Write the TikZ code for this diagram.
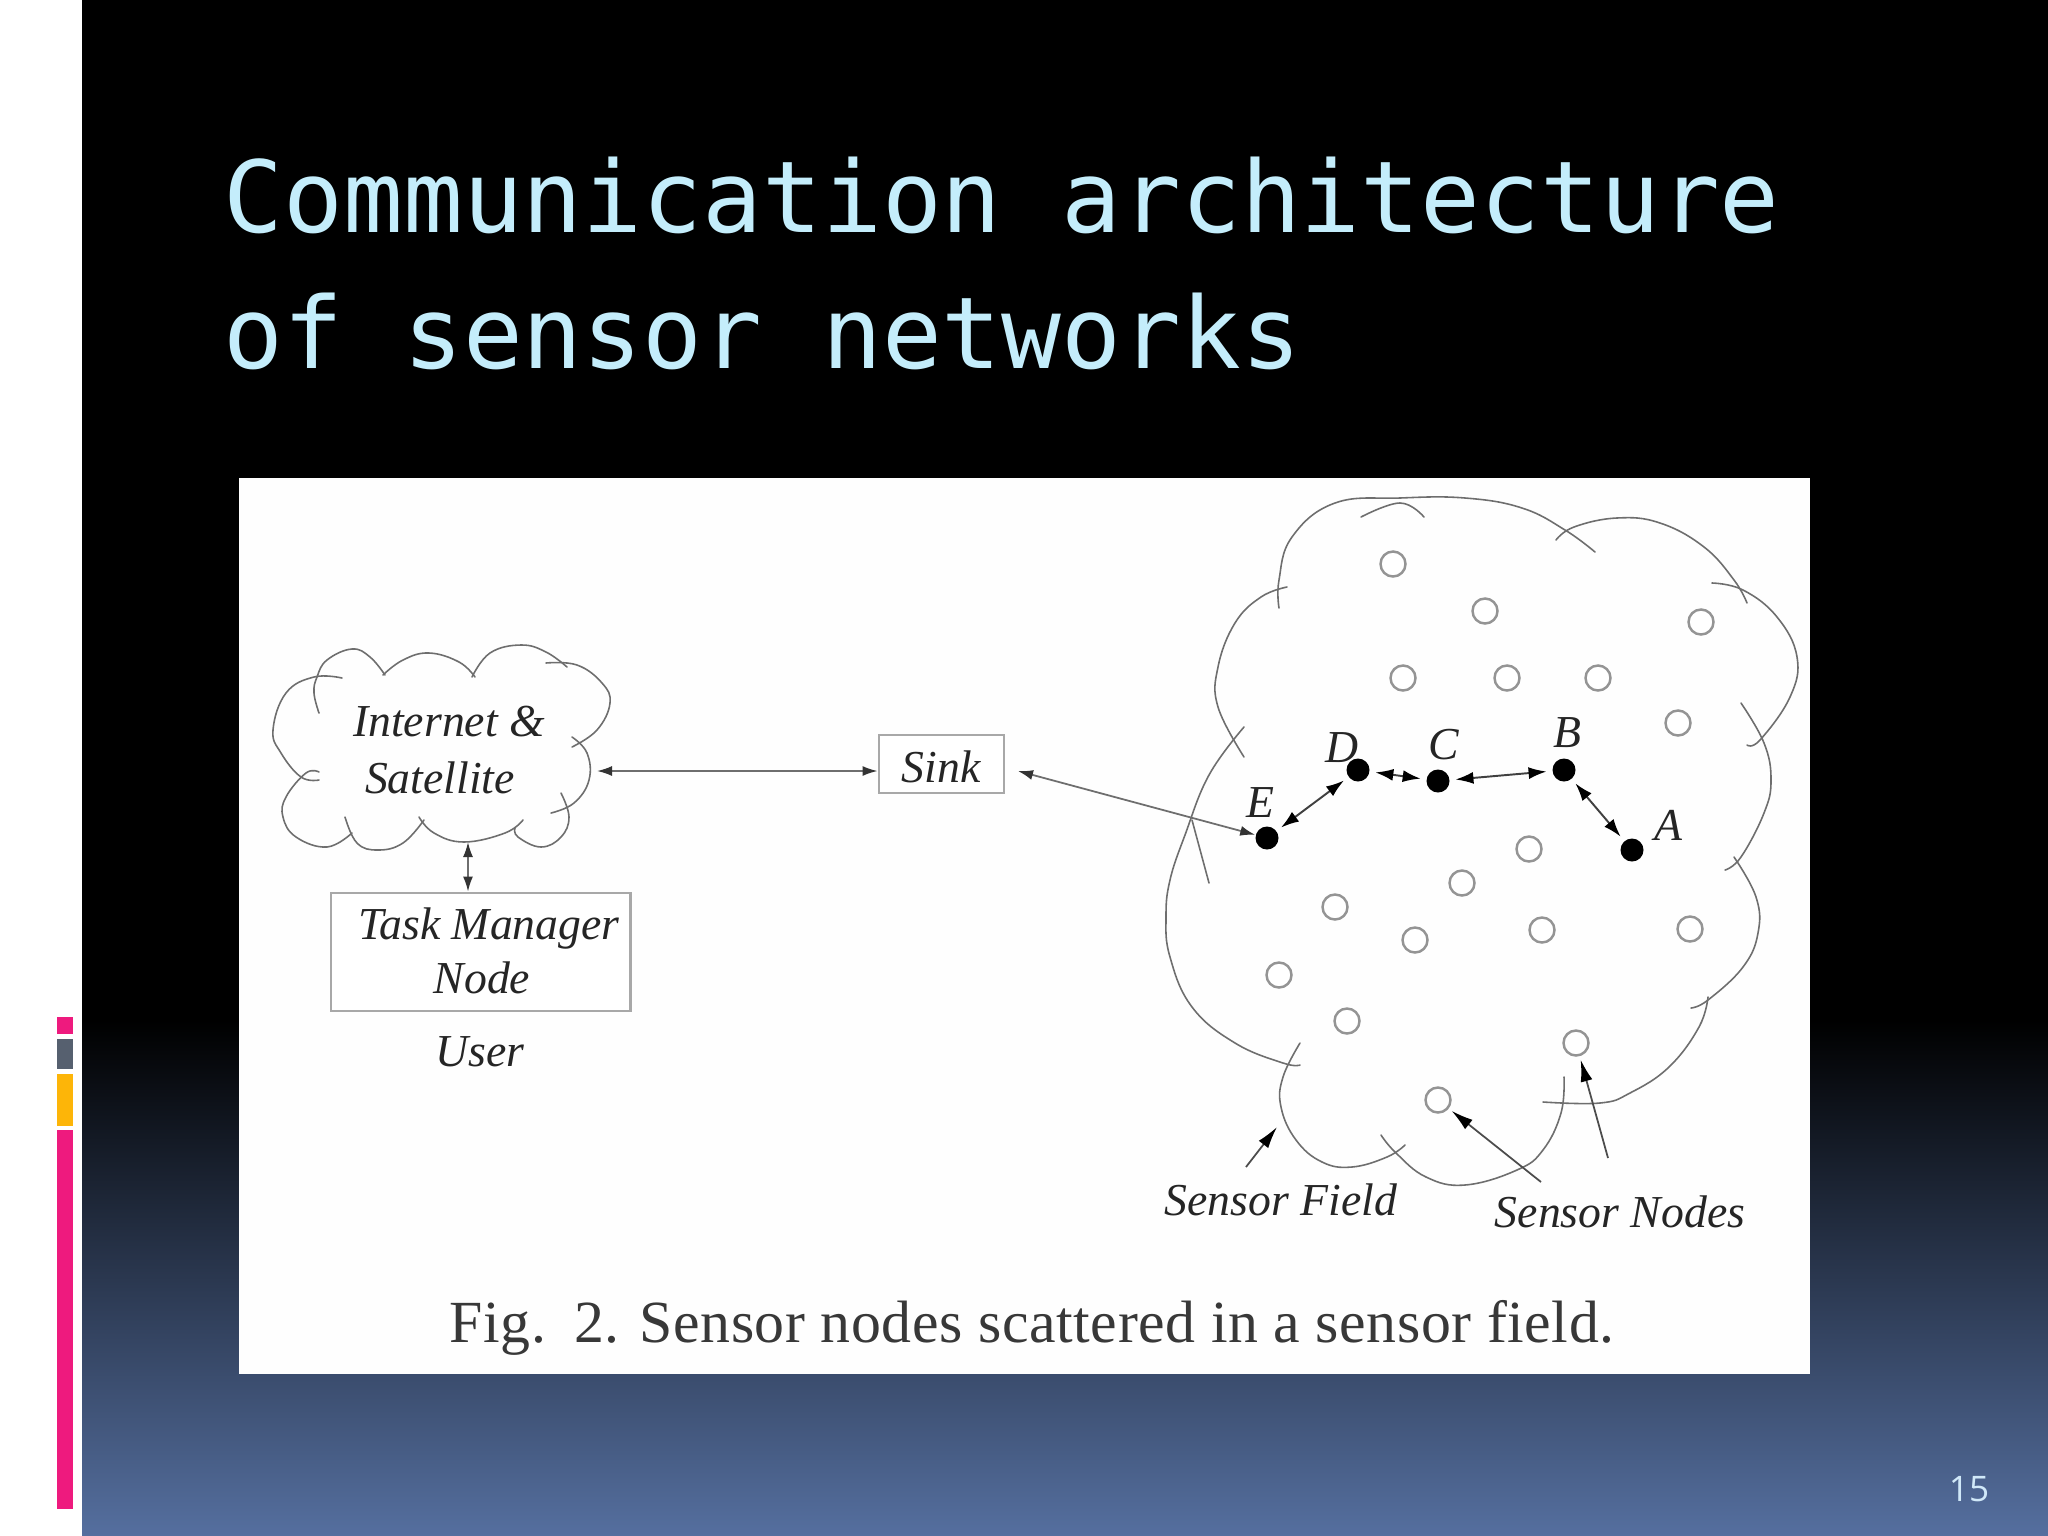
\documentclass[tikz,border=0pt]{standalone}
\usepackage{fontspec}
\setmainfont{Liberation Serif}
\newfontfamily\titlefont{DejaVu Sans Mono}
\newfontfamily\numfont{Open Sans}
\newfontfamily\capfont[LetterSpace=1]{Liberation Serif}
\usetikzlibrary{arrows.meta}
\definecolor{titlecol}{HTML}{C4EDFB}
\definecolor{numcol}{HTML}{D0E8F8}
\definecolor{bluebot}{HTML}{556F9F}
\definecolor{barpink}{HTML}{EE1A7E}
\definecolor{bargray}{HTML}{56606F}
\definecolor{baryellow}{HTML}{FDB508}
\definecolor{linecol}{HTML}{6E6E6E}
\definecolor{boxcol}{HTML}{A8A8A8}
\definecolor{inkcol}{HTML}{252525}
\definecolor{panelcol}{HTML}{FEFEFE}
\tikzset{
  x=0.01cm,y=-0.01cm,
  cl/.style={draw=linecol,line width=0.45pt,line cap=round},
  opn/.style={circle,draw=black!42,line width=0.7pt,fill=white,minimum size=0.25cm,inner sep=0pt},
  blk/.style={circle,fill=black,minimum size=0.23cm,inner sep=0pt},
  box/.style={draw=boxcol,line width=0.8pt,fill=white,inner sep=0pt},
  lbl/.style={inner sep=0pt,text=inkcol,font=\fontsize{13}{15.5}\selectfont\itshape,align=center},
  lnk/.style={draw=linecol,line width=0.5pt,{Latex[length=0.15cm,width=0.1cm,color=black!80]}-{Latex[length=0.15cm,width=0.1cm,color=black!80]}},
  dbl/.style={draw=black!75,line width=0.55pt,{Latex[length=0.18cm,width=0.12cm,color=black]}-{Latex[length=0.18cm,width=0.12cm,color=black]},shorten <=1.5pt,shorten >=1.5pt},
  ptr/.style={draw=black!70,line width=0.5pt,-{Latex[length=0.22cm,width=0.12cm,color=black]}},
  titletext/.style={inner sep=0pt,anchor=base west,text=titlecol,font=\titlefont\fontsize{28.27}{33}\selectfont},
}
\newcommand{\lobe}[1]{\draw[cl] plot[smooth,tension=0.7] coordinates {#1};}
\begin{document}
\begin{tikzpicture}
\useasboundingbox (0,0) rectangle (2048,1536);
% slide background
\fill[white] (0,0) rectangle (2048,1536);
\fill[black] (82,0) rectangle (2048,1022);
\shade[top color=black,bottom color=bluebot] (82,1020) rectangle (2048,1536);
% side bars
\fill[barpink] (57,1017) rectangle (73,1034);
\fill[bargray] (57,1039) rectangle (73,1069);
\fill[baryellow] (57,1074) rectangle (73,1126);
\fill[barpink] (57,1130) rectangle (73,1509);
% title
\node[titletext] (title1) at (223,232) {Communication architecture};
\node[titletext] (title2) at (223,368) {of sensor networks};
\node[inner sep=0pt,text=numcol,font=\numfont\fontsize{10}{12}\selectfont] (pageno) at (1969,1489) {15};
% figure panel
\fill[panelcol] (239,478) rectangle (1810,1374);

% left cloud
\lobe{(319,713) (314,693) (317,677) (327,660) (352,649) (370,657) (385,675)}
\lobe{(383,675) (403,660) (429,653) (459,662) (475,677)}
\lobe{(472,677) (490,653) (521,645) (546,652) (567,667)}
\lobe{(546,663) (577,665) (602,683) (610,703) (597,730) (572,747)}
\lobe{(572,737) (587,753) (589,780) (574,803) (551,813)}
\lobe{(561,793) (569,817) (561,837) (541,847) (518,837) (515,828)}
\lobe{(523,820) (505,833) (464,842) (434,833) (419,817)}
\lobe{(424,820) (403,843) (378,850) (357,843) (345,817)}
\lobe{(352,833) (327,847) (296,837) (283,817) (286,797) (306,773) (319,772)}
\lobe{(319,780) (301,777) (281,753) (273,730) (286,693) (314,677) (342,678)}

% big cloud
\lobe{(1279,608) (1279,580) (1292,537) (1335,503) (1400,498) (1465,498) (1522,508) (1565,530) (1595,552)}
\lobe{(1361,517) (1400,503) (1424,517)}
\lobe{(1556,540) (1574,527) (1617,518) (1660,523) (1704,547) (1734,580) (1747,603)}
\lobe{(1712,583) (1743,590) (1777,617) (1797,657) (1790,697) (1760,740) (1747,745)}
\lobe{(1741,703) (1764,743) (1771,780) (1764,813) (1741,857) (1725,870)}
\lobe{(1734,857) (1756,897) (1758,933) (1743,967) (1708,1000) (1691,1008)}
\lobe{(1708,997) (1699,1027) (1669,1067) (1630,1093) (1600,1103) (1543,1102)}
\lobe{(1564,1077) (1561,1113) (1543,1150) (1517,1170) (1465,1185) (1426,1177) (1396,1153) (1381,1135)}
\lobe{(1405,1145) (1387,1157) (1352,1167) (1322,1162) (1296,1140) (1281,1107) (1283,1077) (1300,1043)}
\lobe{(1300,1065) (1283,1063) (1235,1043) (1192,1007) (1170,957) (1166,917) (1170,880) (1185,835) (1209,775) (1244,727)}
\lobe{(1192,820) (1209,883)}
\lobe{(1244,757) (1218,707) (1218,667) (1235,623) (1261,597) (1287,587)}

% boxes and labels, left side
\node[box,minimum width=2.99cm,minimum height=1.18cm] (task) at (480.5,952) {};
\node[box,minimum width=1.25cm,minimum height=0.58cm] (sink) at (941.5,764) {};
\node[lbl] (sinktext) at (941,767) {Sink};
\node[lbl] (inet) at (449,722) {Internet \&};
\node[lbl] (sat) at (440,778) {Satellite};
\node[lbl] (tasktext1) at (489,928) {Task Manager};
\node[lbl] (tasktext2) at (482,978) {Node};
\node[lbl] (user) at (480,1052) {User};
\coordinate (cloudE) at (597,771);
\coordinate (cloudS) at (468,842);
\coordinate (sinkR) at (1018,771);

% open sensor nodes
\foreach \px/\py [count=\i] in {1393/564,1485/611,1701/622,1403/678,1507/678,1598/678,1678/723,1529/849,1462/883,1335/907,1415/940,1542/930,1690/929,1279/975,1347/1021,1576/1043,1438/1100}
  \node[opn] (n\i) at (\px,\py) {};

% path nodes
\node[blk] (A) at (1632,850) {};
\node[blk] (B) at (1564,770) {};
\node[blk] (C) at (1438,781) {};
\node[blk] (D) at (1358,770) {};
\node[blk] (E) at (1267,838) {};
\node[lbl] (la) at (1668,825) {A};
\node[lbl] (lb) at (1567,733) {B};
\node[lbl] (lc) at (1444,745) {C};
\node[lbl] (ld) at (1342,748) {D};
\node[lbl] (le) at (1260,803) {E};

% connectors
\draw[lnk] (cloudE) -- (cloudE -| sink.west);
\draw[lnk] (cloudS) -- (cloudS |- task.north);
\draw[lnk] (sinkR) -- (E);
\draw[dbl] (E) -- (D);
\draw[dbl] (D) -- (C);
\draw[dbl] (C) -- (B);
\draw[dbl] (B) -- (A);

% pointer labels
\node[lbl] (field) at (1281,1200) {Sensor Field};
\node[lbl] (nodes) at (1620,1212) {Sensor Nodes};
\coordinate (pf1) at (1246,1167);
\coordinate (pf2) at (1277,1127);
\coordinate (pn1) at (1541,1182);
\coordinate (pn2) at (1608,1158);
\draw[ptr] (pf1) -- (pf2);
\draw[ptr,shorten >=1pt] (pn1) -- (n17);
\draw[ptr,shorten >=1pt] (pn2) -- (n16);

% caption
\node[inner sep=0pt,anchor=base west,text=black!78,font=\capfont\fontsize{17}{20}\selectfont] (caption) at (449,1342) {Fig.\hspace{0.28cm}2.\hspace{0.2cm}Sensor nodes scattered in a sensor field.};
\end{tikzpicture}
\end{document}
